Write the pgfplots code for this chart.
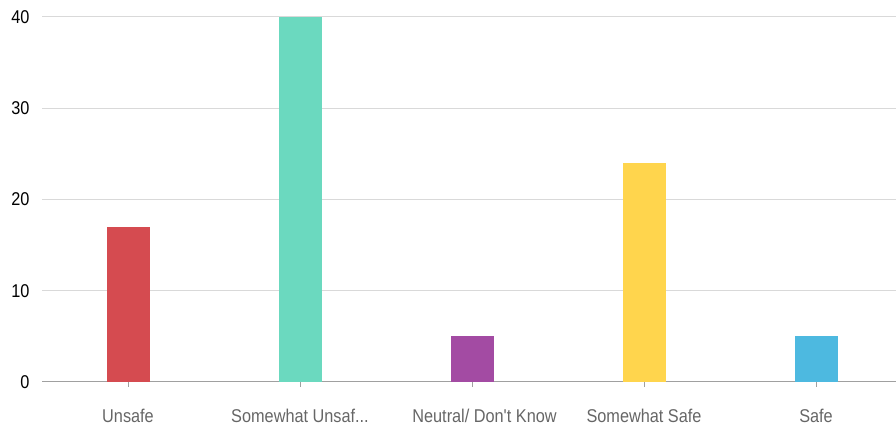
\documentclass[border=0pt]{standalone}
\usepackage{pgfplots}
\pgfplotsset{compat=1.18}
\usepackage{fontspec}
\setmainfont{Liberation Sans}
\newfontfamily\condfont[FakeStretch=0.88]{Liberation Sans}
\definecolor{cRed}{HTML}{D54B50}
\definecolor{cTeal}{HTML}{6BD9BF}
\definecolor{cPurple}{HTML}{A34BA3}
\definecolor{cYellow}{HTML}{FFD54D}
\definecolor{cBlue}{HTML}{4DB9E0}
\definecolor{gridc}{HTML}{D9D9D9}
\definecolor{axisc}{HTML}{A0A0A0}
\definecolor{labc}{HTML}{666666}
\begin{document}
\begin{tikzpicture}[x=1pt,y=1pt]
\useasboundingbox (0,0) rectangle (896,430);
\begin{axis}[
  at={(42pt,48pt)}, anchor=south west,
  scale only axis, width=854pt, height=365pt,
  xmin=-0.5, xmax=4.465, ymin=0, ymax=40,
  axis line style={draw=none},
  ytick={0,10,20,30,40},
  ymajorgrids, grid style={gridc, line width=1pt},
  xtick={0,1,2,3,4},
  xticklabels={Unsafe,{Somewhat Unsaf.{}.{}.},{\hspace*{25pt}Neutral/ Don{\char"0027}t Know},Somewhat Safe,Safe},
  xticklabel style={font=\condfont\fontsize{18.5}{20}\selectfont, text=labc, yshift=-19pt},
  yticklabel style={font=\condfont\fontsize{18.5}{20}\selectfont, text=black, xshift=-9pt},
  xtick pos=bottom, ytick pos=left,
  /pgf/number format/assume math mode=true,
  tick style={draw=none},
  ybar, bar width=43pt, bar shift=0pt,
  clip=false,
]
\draw[axisc, line width=1pt] (rel axis cs:0,0) -- (rel axis cs:1,0);
\draw[axisc, line width=0.8pt] (axis cs:0,0) -- ++(0pt,-5pt);
\draw[axisc, line width=0.8pt] (axis cs:1,0) -- ++(0pt,-5pt);
\draw[axisc, line width=0.8pt] (axis cs:2,0) -- ++(0pt,-5pt);
\draw[axisc, line width=0.8pt] (axis cs:3,0) -- ++(0pt,-5pt);
\draw[axisc, line width=0.8pt] (axis cs:4,0) -- ++(0pt,-5pt);
\addplot[fill=cRed, draw=none] coordinates {(0,17)};
\addplot[fill=cTeal, draw=none] coordinates {(1,40)};
\addplot[fill=cPurple, draw=none] coordinates {(2,5)};
\addplot[fill=cYellow, draw=none] coordinates {(3,24)};
\addplot[fill=cBlue, draw=none] coordinates {(4,5)};
\end{axis}
\end{tikzpicture}
\end{document}
